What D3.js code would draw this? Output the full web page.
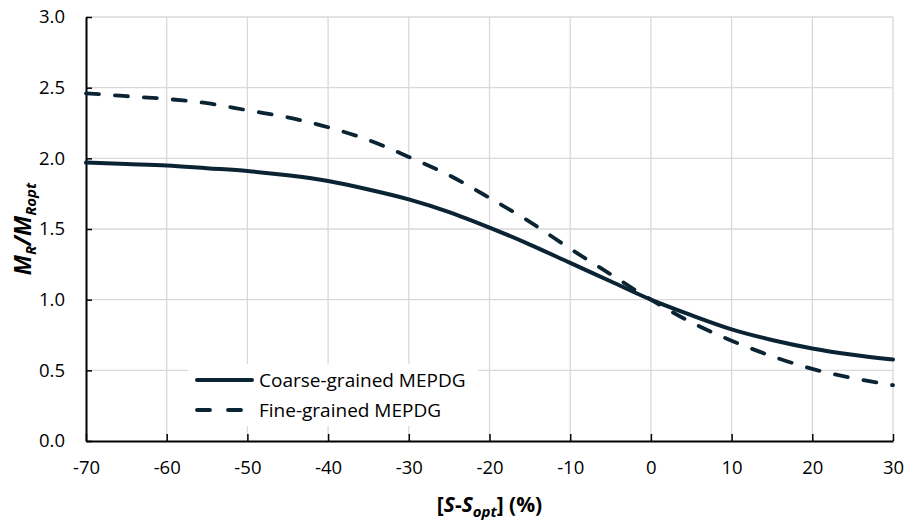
<!DOCTYPE html>
<html><head><meta charset="utf-8">
<script src="https://cdn.jsdelivr.net/npm/d3@7"></script>
<style>body{margin:0;background:#fff}svg{display:block}text{font-family:"Open Sans",sans-serif}</style>
</head><body>
<svg id="c" width="906" height="523"></svg>
<script>
const xValues = [-70,-65,-60,-55,-50,-45,-40,-35,-30,-25,-20,-15,-10,-5,0,5,10,15,20,25,30];
const coarseValues = [1.97,1.96,1.95,1.93,1.91,1.88,1.84,1.78,1.71,1.62,1.51,1.39,1.26,1.13,1.00,0.89,0.79,0.715,0.655,0.61,0.576];
const fineValues = [2.46,2.44,2.42,2.39,2.34,2.29,2.22,2.13,2.01,1.88,1.72,1.55,1.36,1.18,1.00,0.84,0.71,0.60,0.51,0.445,0.395];
const xTicks = [-70,-60,-50,-40,-30,-20,-10,0,10,20,30];
const yTicks = [0,0.5,1.0,1.5,2.0,2.5,3.0];
const seriesNames = ["Coarse-grained MEPDG","Fine-grained MEPDG"];
const lineColor = "#0b2434";

const svg = d3.select("#c");
const L=86, R=893, T=17, B=441;
const x = d3.scaleLinear().domain([-70,30]).range([L,R]);
const y = d3.scaleLinear().domain([0,3]).range([B,T]);

// gridlines
svg.append("g").selectAll("line.v").data(xTicks.slice(1)).join("line")
  .attr("x1",d=>x(d)).attr("x2",d=>x(d)).attr("y1",T).attr("y2",B)
  .attr("stroke","#d9d9d9").attr("stroke-width",1.3);
svg.append("g").selectAll("line.h").data(yTicks.slice(1)).join("line")
  .attr("x1",L).attr("x2",R).attr("y1",d=>y(d)).attr("y2",d=>y(d))
  .attr("stroke","#d9d9d9").attr("stroke-width",1.3);

// axes
const xAxis = svg.append("g").attr("transform",`translate(0,${B})`)
  .call(d3.axisBottom(x).tickValues(xTicks).tickSizeInner(-7).tickSizeOuter(0).tickPadding(20).tickFormat(d=>String(d)));
const yAxis = svg.append("g").attr("transform",`translate(${L},0)`)
  .call(d3.axisLeft(y).tickValues(yTicks).tickSizeInner(-6).tickSizeOuter(0).tickPadding(21).tickFormat(d=>d.toFixed(1)));
[xAxis,yAxis].forEach(a=>{
  a.select(".domain").attr("stroke","#000").attr("stroke-width",2);
  a.selectAll(".tick line").attr("stroke","#000").attr("stroke-width",1.5);
  a.selectAll(".tick text").attr("fill","#000").style("font-size","18.5px").style("font-family","'Open Sans',sans-serif");
});

// lines
const gen = d3.line().x(d=>x(d[0])).y(d=>y(d[1])).curve(d3.curveMonotoneX);
svg.append("path").datum(xValues.map((v,i)=>[v,fineValues[i]])).attr("d",gen)
  .attr("fill","none").attr("stroke",lineColor).attr("stroke-width",3.8)
  .attr("stroke-dasharray","13,16").attr("stroke-linecap","round");
svg.append("path").datum(xValues.map((v,i)=>[v,coarseValues[i]])).attr("d",gen)
  .attr("fill","none").attr("stroke",lineColor).attr("stroke-width",4).attr("stroke-linecap","round");

// legend
const lg = svg.append("g");
lg.append("rect").attr("x",188).attr("y",364).attr("width",290).attr("height",62).attr("fill","#fff");
lg.append("line").attr("x1",197).attr("x2",252).attr("y1",380).attr("y2",380)
  .attr("stroke",lineColor).attr("stroke-width",4).attr("stroke-linecap","round");
lg.append("line").attr("x1",197).attr("x2",243).attr("y1",410).attr("y2",410)
  .attr("stroke",lineColor).attr("stroke-width",3.8).attr("stroke-dasharray","13,18").attr("stroke-linecap","round");
lg.append("text").attr("x",259).attr("y",387).style("font-size","19px").text(seriesNames[0]);
lg.append("text").attr("x",259).attr("y",417).style("font-size","19px").text(seriesNames[1]);

// axis titles
const xt = svg.append("text").attr("x",(L+R)/2).attr("y",512).attr("text-anchor","middle")
  .style("font-size","21px").style("font-weight","bold");
xt.append("tspan").text("[");
xt.append("tspan").style("font-style","italic").text("S");
xt.append("tspan").text("-");
xt.append("tspan").style("font-style","italic").text("S");
xt.append("tspan").style("font-style","italic").style("font-size","15px").attr("dy",5).text("opt");
xt.append("tspan").attr("dy",-5).text("] (%)");

const yt = svg.append("text").attr("transform",`translate(31,${(T+B)/2}) rotate(-90)`).attr("text-anchor","middle")
  .style("font-size","23px").style("font-weight","bold").style("font-style","italic");
yt.append("tspan").text("M");
yt.append("tspan").style("font-size","15px").attr("dy",5).text("R");
yt.append("tspan").attr("dy",-5).text("/M");
yt.append("tspan").style("font-size","15px").attr("dy",5).text("Ropt");
</script>
</body></html>
